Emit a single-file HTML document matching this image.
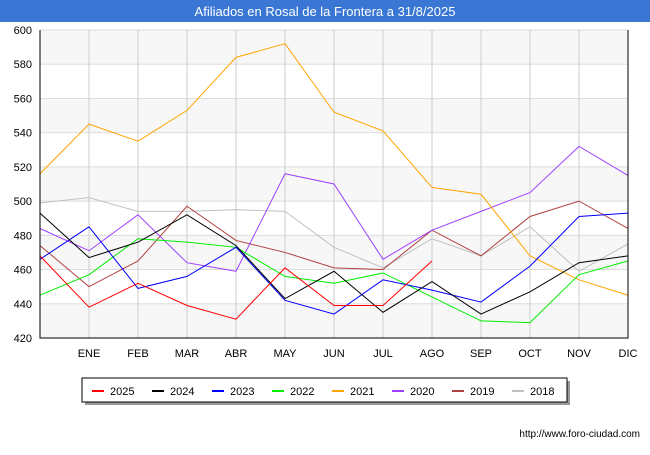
<!DOCTYPE html>
<html><head><meta charset="utf-8"><style>
body{margin:0;width:650px;height:450px;background:#fff;font-family:"Liberation Sans",sans-serif;overflow:hidden}
</style></head><body>
<svg width="650" height="450" xmlns="http://www.w3.org/2000/svg" id="chart">
<rect x="0" y="0" width="650" height="450" fill="#ffffff"/>
<rect x="0" y="0" width="650" height="22" fill="#3a77d4"/>
<text x="325" y="16" fill="#fff" font-size="13" text-anchor="middle">Afiliados en Rosal de la Frontera a 31/8/2025</text>
<g id="grid"></g><g id="series"></g><g id="axes"></g>
<rect x="85" y="381" width="485" height="24" fill="#999"/>
<rect x="82" y="378" width="485" height="24" fill="#fff" stroke="#000"/>
<g id="legend"></g>
<text x="640" y="437" font-size="10" text-anchor="end" fill="#000">http://www.foro-ciudad.com</text>
</svg>
<script>
const months=["","ENE","FEB","MAR","ABR","MAY","JUN","JUL","AGO","SEP","OCT","NOV","DIC"];
const yTicks=[420,440,460,480,500,520,540,560,580,600];
const names=["2025","2024","2023","2022","2021","2020","2019","2018"];
const colors=["#ff0000","#000000","#0000ff","#00ee00","#ffa500","#a040ff","#b04040","#c0c0c0"];
const v2025=[468,438,452,439,431,461,439,439,465];
const v2024=[493,467,476,492,474,443,459,435,453,434,447,464,468];
const v2023=[466,485,449,456,473,442,434,454,448,441,462,491,493];
const v2022=[445,457,478,476,473,456,452,458,444,430,429,457,465];
const v2021=[516,545,535,553,584,592,552,541,508,504,468,454,445];
const v2020=[484,471,492,464,459,516,510,466,483,494,505,532,515];
const v2019=[474,450,465,497,477,470,461,460,483,468,491,500,484];
const v2018=[499,502,494,494,495,494,473,461,478,468,485,459,475];
const all=[v2025,v2024,v2023,v2022,v2021,v2020,v2019,v2018];
const X0=40,X1=628,Y0=338,Y1=30;
const xs=i=>X0+i*(X1-X0)/12;
const ys=v=>Y0-(v-420)*(Y0-Y1)/180;
const NS="http://www.w3.org/2000/svg";
function mk(t,a,p){const e=document.createElementNS(NS,t);for(const k in a)e.setAttribute(k,a[k]);p.appendChild(e);return e;}
const grid=document.getElementById('grid'),ser=document.getElementById('series'),ax=document.getElementById('axes'),leg=document.getElementById('legend');
for(let i=0;i<yTicks.length-1;i++){
 if(i%2==0){const r=mk('rect',{x:X0,y:ys(yTicks[i+1]),width:X1-X0,height:ys(yTicks[i])-ys(yTicks[i+1]),fill:'#f7f7f7'},grid);
 
 }
}
yTicks.forEach(t=>{
 const l=mk('line',{x1:X0,x2:X1,y1:ys(t),y2:ys(t),stroke:'#ddd'},grid);
 
 
 const tx=mk('text',{x:X0-8,y:ys(t)+4,'font-size':11,'text-anchor':'end',fill:'#000'},ax);
 tx.textContent=t;
 
 
});
months.forEach((m,i)=>{
 const l=mk('line',{x1:xs(i),x2:xs(i),y1:Y1,y2:Y0,stroke:'#ccc'},grid);
 
 
 const tx=mk('text',{x:xs(i),y:357,'font-size':11,'text-anchor':'middle',fill:'#000'},ax);
 tx.textContent=m;
 
 
});
const axl=mk('path',{d:`M${X0},${Y1}V${Y0}H${X1}V${Y1}`,stroke:'#000',fill:'none','stroke-width':1},ax);


for(let s=all.length-1;s>=0;s--){
 const d=all[s].map((v,i)=>(i?'L':'M')+xs(i)+','+ys(v)).join('');
 const p=mk('path',{d:d,stroke:colors[s],fill:'none','stroke-width':1},ser);
 
 
}
names.forEach((n,i)=>{
 const x=92+i*60;
 const l=mk('line',{x1:x,x2:x+12,y1:391,y2:391,stroke:colors[i],'stroke-width':2},leg);
 
 
 const t=mk('text',{x:x+18,y:395,'font-size':11,fill:'#000'},leg);
 t.textContent=n;
 
 
});
</script>
</body></html>
